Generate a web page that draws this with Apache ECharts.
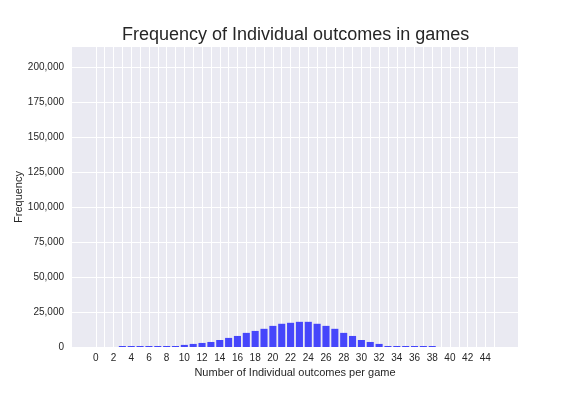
<!DOCTYPE html>
<html>
<head>
<meta charset="utf-8">
<script src="https://cdn.jsdelivr.net/npm/echarts@6/dist/echarts.min.js"></script>
<style>html,body{margin:0;padding:0;background:#fff}#c{width:576px;height:396px}</style>
</head>
<body>
<div id="c"></div>
<script>
// Data
const outcomes = [3,4,5,6,7,8,9,10,11,12,13,14,15,16,17,18,19,20,21,22,23,24,25,26,27,28,29,30,31,32,33,34,35,36,37,38];
const frequencies = [700,700,700,700,700,700,700,1500,2200,2900,3600,5000,6500,7900,10100,11500,13000,15100,16600,17300,18000,18000,16600,15100,13000,10100,7900,5000,3600,2200,700,700,700,700,700,700];
const xTickLabels = [0,2,4,6,8,10,12,14,16,18,20,22,24,26,28,30,32,34,36,38,40,42,44];
const xGridValues = [0,1,2,3,4,5,6,7,8,9,10,11,12,13,14,15,16,17,18,19,20,21,22,23,24,25,26,27,28,29,30,31,32,33,34,35,36,37,38,39,40,41,42,43,44,45];
const yTickValues = [0,25000,50000,75000,100000,125000,150000,175000,200000];
const xRange = [-2.69, 47.69];
const yMax = 214500;

const font = 'Liberation Sans, Arial, sans-serif';
const chart = echarts.init(document.getElementById('c'), null, {renderer: 'canvas'});
chart.setOption({
  animation: false,
  backgroundColor: '#ffffff',
  title: {
    text: 'Frequency of Individual outcomes in games',
    left: 117, top: 21,
    textStyle: {fontFamily: font, fontSize: 18, fontWeight: 'normal', color: '#262626'}
  },
  grid: {
    left: 72, right: 58, top: 47, bottom: 49,
    show: true, backgroundColor: '#EAEAF2', borderWidth: 0
  },
  xAxis: {
    type: 'value', min: xRange[0], max: xRange[1],
    name: 'Number of Individual outcomes per game',
    nameLocation: 'middle', nameGap: 20, nameMoveOverlap: false,
    nameTextStyle: {fontFamily: font, fontSize: 11, color: '#262626'},
    axisLine: {show: false},
    axisTick: {show: false, customValues: xGridValues},
    axisLabel: {customValues: xTickLabels, fontFamily: font, fontSize: 10, color: '#262626', margin: 6},
    splitLine: {show: true, lineStyle: {color: '#ffffff', width: 1}}
  },
  yAxis: {
    type: 'value', min: 0, max: yMax,
    name: 'Frequency', nameLocation: 'middle', nameGap: 48, nameRotate: 90, nameMoveOverlap: false,
    nameTextStyle: {fontFamily: font, fontSize: 11, color: '#262626'},
    axisLine: {show: false},
    axisTick: {show: false, customValues: yTickValues},
    axisLabel: {
      customValues: yTickValues, fontFamily: font, fontSize: 10, color: '#262626', margin: 8,
      formatter: v => v.toLocaleString('en-US')
    },
    splitLine: {show: true, lineStyle: {color: '#ffffff', width: 1}}
  },
  series: [{
    type: 'bar',
    data: outcomes.map((x, i) => [x, frequencies[i]]),
    barWidth: '80%',
    itemStyle: {color: '#4646FB'},
    silent: true
  }]
});
</script>
</body>
</html>
